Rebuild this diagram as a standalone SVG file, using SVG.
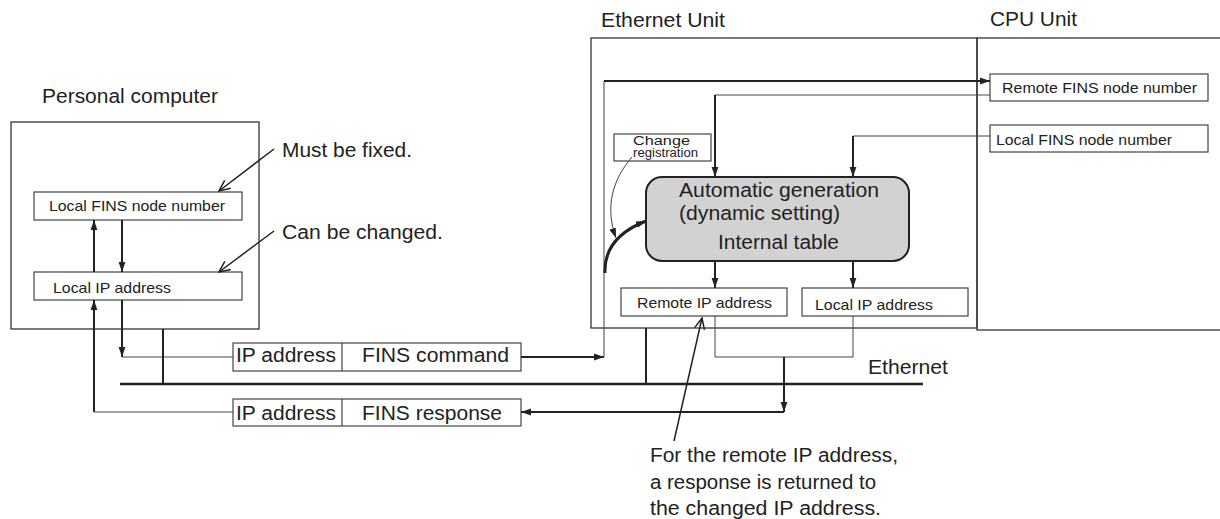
<svg xmlns="http://www.w3.org/2000/svg" width="1220" height="519" viewBox="0 0 1220 519">
<style>
text{font-family:"Liberation Sans",Arial,Helvetica,sans-serif;fill:#222}
.b{font-size:19.5px}
.s{font-size:14.8px}
.t{font-size:12.5px}
.box{fill:#fff;stroke:#444;stroke-width:1.2}
.unit{fill:none;stroke:#333;stroke-width:1.3}
.thick{fill:none;stroke:#222;stroke-width:2}
.thin{fill:none;stroke:#444;stroke-width:1}
.bus{fill:none;stroke:#222;stroke-width:2.6}
.ann{fill:none;stroke:#222;stroke-width:1.5}
</style>
<defs>
<marker id="ah" markerUnits="userSpaceOnUse" markerWidth="11" markerHeight="8" refX="10" refY="4" orient="auto"><path d="M0,0.6 L10,4 L0,7.4 Z" fill="#222"/></marker>
<marker id="av" markerUnits="userSpaceOnUse" markerWidth="14" markerHeight="12" refX="12" refY="6" orient="auto"><path d="M1,1 L12,6 L1,11" fill="none" stroke="#222" stroke-width="1.5"/></marker>
</defs>
<rect width="1220" height="519" fill="#fff"/>

<g id="pc">
<rect class="unit" x="11" y="122" width="248" height="207"/>
<text class="b" x="42" y="103" textLength="176" lengthAdjust="spacingAndGlyphs">Personal computer</text>
</g>
<g id="pc-fins">
<rect class="box" x="34" y="192" width="208" height="28"/>
<text class="s" x="49" y="211" textLength="176" lengthAdjust="spacingAndGlyphs">Local FINS node number</text>
</g>
<g id="pc-ip">
<rect class="box" x="34" y="272" width="208" height="28"/>
<text class="s" x="53" y="293" textLength="118" lengthAdjust="spacingAndGlyphs">Local IP address</text>
</g>
<g id="note-fixed">
<text class="b" x="282" y="157" textLength="130" lengthAdjust="spacingAndGlyphs">Must be fixed.</text>
</g>
<g id="note-changed">
<text class="b" x="282" y="239" textLength="161" lengthAdjust="spacingAndGlyphs">Can be changed.</text>
</g>

<g id="eth-unit">
<rect class="unit" x="591" y="38" width="386" height="290"/>
<text class="b" x="601" y="27" textLength="124" lengthAdjust="spacingAndGlyphs">Ethernet Unit</text>
</g>
<g id="cpu-unit">
<rect class="unit" x="977" y="38" width="260" height="292"/>
<text class="b" x="990" y="26" textLength="87" lengthAdjust="spacingAndGlyphs">CPU Unit</text>
</g>
<g id="cpu-remote-fins">
<rect class="box" x="990" y="74" width="218" height="27"/>
<text class="s" x="1002" y="93" textLength="195" lengthAdjust="spacingAndGlyphs">Remote FINS node number</text>
</g>
<g id="cpu-local-fins">
<rect class="box" x="990" y="125" width="218" height="27"/>
<text class="s" x="996" y="145" textLength="176" lengthAdjust="spacingAndGlyphs">Local FINS node number</text>
</g>
<g id="change-reg">
<rect class="box" x="614" y="134" width="97" height="27"/>
<text class="t" x="633" y="145" textLength="57" lengthAdjust="spacingAndGlyphs">Change</text>
<text class="t" x="633" y="157" textLength="65" lengthAdjust="spacingAndGlyphs">registration</text>
</g>
<g id="internal-table">
<rect x="646" y="177" width="263" height="84" rx="16" ry="16" fill="#d2d2d2" stroke="#222" stroke-width="2"/>
<text class="b" x="679" y="197" textLength="200" lengthAdjust="spacingAndGlyphs">Automatic generation</text>
<text class="b" x="679" y="220" textLength="161" lengthAdjust="spacingAndGlyphs">(dynamic setting)</text>
<text class="b" x="718" y="249" textLength="121" lengthAdjust="spacingAndGlyphs">Internal table</text>
</g>
<g id="eth-remote-ip">
<rect class="box" x="621" y="288" width="166" height="28"/>
<text class="s" x="637" y="308" textLength="135" lengthAdjust="spacingAndGlyphs">Remote IP address</text>
</g>
<g id="eth-local-ip">
<rect class="box" x="802" y="288" width="166" height="28"/>
<text class="s" x="815" y="310" textLength="118" lengthAdjust="spacingAndGlyphs">Local IP address</text>
</g>

<g id="cmd-packet">
<rect class="box" x="233" y="343" width="288" height="28"/>
<line x1="342" y1="343" x2="342" y2="371" stroke="#444" stroke-width="1.2"/>
<text class="b" x="236" y="362" textLength="100" lengthAdjust="spacingAndGlyphs">IP address</text>
<text class="b" x="362" y="362" textLength="147" lengthAdjust="spacingAndGlyphs">FINS command</text>
</g>
<g id="resp-packet">
<rect class="box" x="233" y="399" width="288" height="27"/>
<line x1="342" y1="399" x2="342" y2="426" stroke="#444" stroke-width="1.2"/>
<text class="b" x="236" y="420" textLength="100" lengthAdjust="spacingAndGlyphs">IP address</text>
<text class="b" x="362" y="420" textLength="140" lengthAdjust="spacingAndGlyphs">FINS response</text>
</g>
<g id="ethernet">
<path class="bus" d="M120,384 H923"/>
<text class="b" x="868" y="374" textLength="80" lengthAdjust="spacingAndGlyphs">Ethernet</text>
</g>
<g id="note-remote">
<text class="b" x="650" y="462" textLength="248" lengthAdjust="spacingAndGlyphs">For the remote IP address,</text>
<text class="b" x="650" y="489" textLength="226" lengthAdjust="spacingAndGlyphs">a response is returned to</text>
<text class="b" x="650" y="515" textLength="231" lengthAdjust="spacingAndGlyphs">the changed IP address.</text>
</g>

<g id="connectors">
<path class="thick" d="M122,220 V272" marker-end="url(#ah)"/>
<path class="thick" d="M94,272 V220" marker-end="url(#ah)"/>
<path class="thick" d="M94,412 V300" marker-end="url(#ah)"/>
<path class="thin" d="M233,412 H94"/>
<path class="thick" d="M122,300 V357" marker-end="url(#ah)"/>
<path class="thin" d="M122,357 H233"/>
<path class="thick" d="M163,329 V384"/>
<path class="thick" d="M521,357 H604" marker-end="url(#ah)"/>
<path class="thin" d="M604,357 V81"/>
<path class="thick" d="M604,81 H990" marker-end="url(#ah)"/>
<path class="thin" d="M990,95 H715"/>
<path class="thick" d="M715,95 V177" marker-end="url(#ah)"/>
<path class="thin" d="M990,136 H853"/>
<path class="thick" d="M853,136 V177" marker-end="url(#ah)"/>
<path class="thick" d="M715,261 V288" marker-end="url(#ah)"/>
<path class="thick" d="M853,261 V288" marker-end="url(#ah)"/>
<path class="thin" d="M715,316 V357 H853 V316"/>
<path class="thick" d="M784,357 V412" marker-end="url(#ah)"/>
<path class="thick" d="M784,412 H521" marker-end="url(#ah)"/>
<path class="thick" d="M646,328 V384"/>
<path class="thin" d="M632,157 C614,178 604,205 616,238" stroke-width="1.2" marker-end="url(#ah)"/>
<path d="M605,273 C604,250 618,232 646,221" fill="none" stroke="#222" stroke-width="3" marker-end="url(#ah)"/>
<path class="ann" d="M274,149 L219,191" marker-end="url(#av)"/>
<path class="ann" d="M274,231 L219,272" marker-end="url(#av)"/>
<path class="ann" d="M674,441 L702,318" marker-end="url(#av)"/>
</g>
</svg>
